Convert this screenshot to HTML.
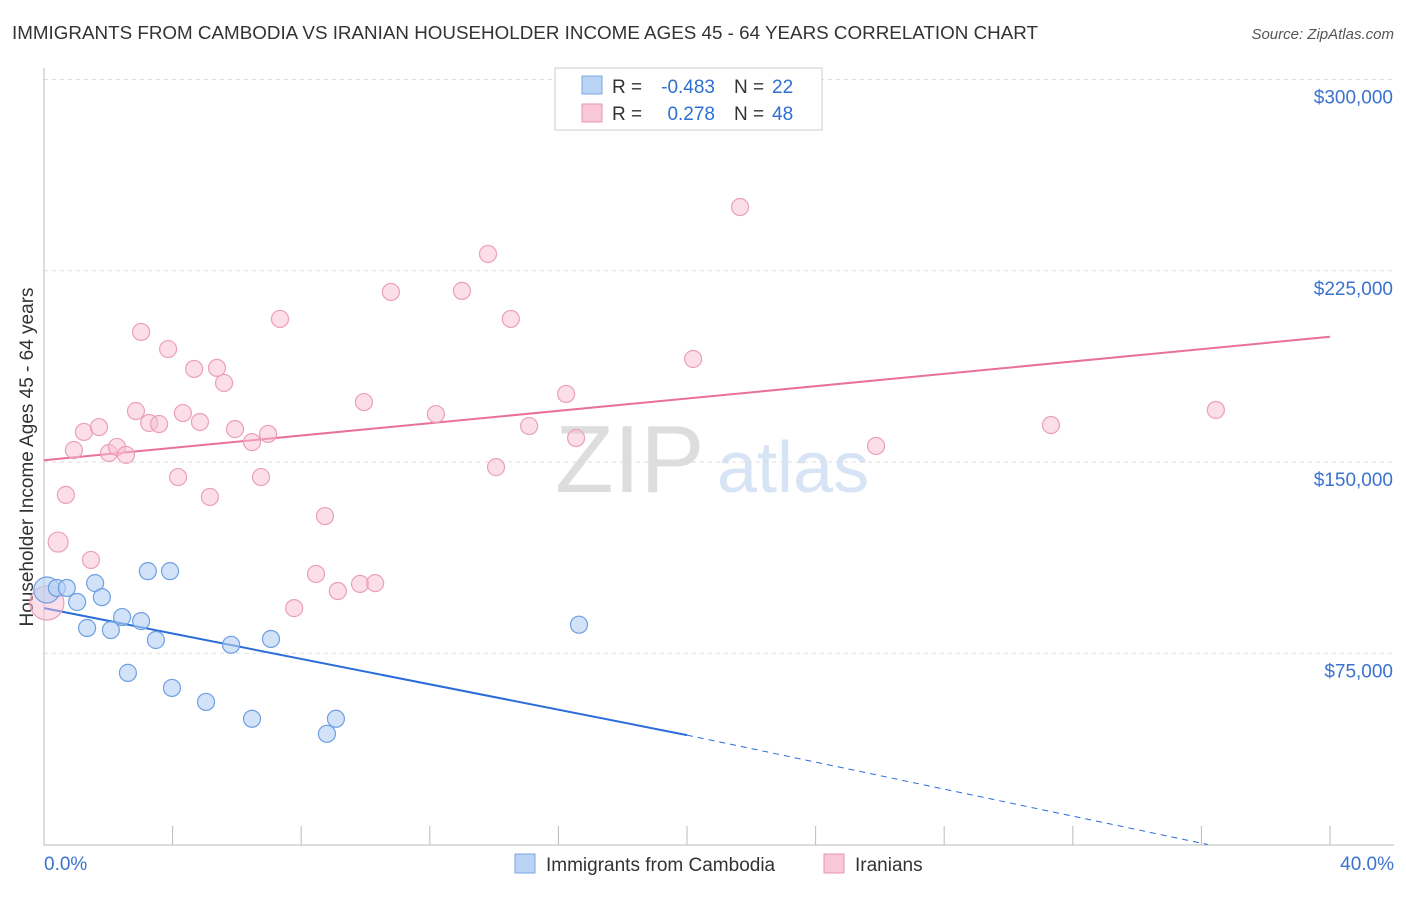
<!DOCTYPE html>
<html><head><meta charset="utf-8"><style>
body{margin:0;background:#fff;font-family:"Liberation Sans",sans-serif;}
svg text{font-family:"Liberation Sans",sans-serif;}
</style></head><body>
<svg id="chart" width="1406" height="892">
<text x="12" y="39" font-size="18.8" fill="#333" textLength="1026">IMMIGRANTS FROM CAMBODIA VS IRANIAN HOUSEHOLDER INCOME AGES 45 - 64 YEARS CORRELATION CHART</text>
<text x="1394" y="39" font-size="15" fill="#555" text-anchor="end" font-style="italic">Source: ZipAtlas.com</text>
<text transform="translate(33,457) rotate(-90)" font-size="19" fill="#333" text-anchor="middle">Householder Income Ages 45 - 64 years</text>
<text x="555" y="492" font-size="96" fill="#ddd" font-family="Liberation Serif">ZIP</text>
<text x="717" y="492" font-size="72" fill="#d6e4f5">atlas</text>
<g id="grid"></g><g id="axes"></g><g id="trends"></g><g id="points"></g>
<g>
<rect x="555" y="68" width="267" height="62" fill="#fff" stroke="#ccc"/>
<rect x="582" y="76" width="20" height="18" fill="#b9d3f5" stroke="#7aa7e0"/>
<text x="612" y="93" font-size="19" fill="#333">R =</text>
<text x="715" y="93" font-size="19" fill="#2e6fd1" text-anchor="end">-0.483</text>
<text x="734" y="93" font-size="19" fill="#333">N =</text>
<text x="772" y="93" font-size="19" fill="#2e6fd1">22</text>
<rect x="582" y="104" width="20" height="18" fill="#f9c8d8" stroke="#e893b0"/>
<text x="612" y="120" font-size="19" fill="#333">R =</text>
<text x="715" y="120" font-size="19" fill="#2e6fd1" text-anchor="end">0.278</text>
<text x="734" y="120" font-size="19" fill="#333">N =</text>
<text x="772" y="120" font-size="19" fill="#2e6fd1">48</text>
</g>
<g>
<rect x="515" y="854" width="20" height="19" fill="#b9d3f5" stroke="#7aa7e0"/>
<text x="546" y="871" font-size="19" fill="#333">Immigrants from Cambodia</text>
<rect x="824" y="854" width="20" height="19" fill="#f9c8d8" stroke="#e893b0"/>
<text x="855" y="871" font-size="19" fill="#333">Iranians</text>
</g>
</svg>
<script>
const yTicks=[75000,150000,225000,300000];
const yTickLabels=["$75,000","$150,000","$225,000","$300,000"];
const blueX=[0.09,0.40,0.71,1.03,1.34,1.59,1.80,2.08,2.43,2.61,3.02,3.23,3.48,3.92,3.98,5.04,5.82,6.47,7.06,8.80,9.08,16.64];
const blueY=[99800,100600,100600,95100,84900,102500,97000,84100,89200,67300,87600,107200,80200,107200,61400,55900,78300,49300,80600,43400,49300,86200];
const pinkX=[0.09,0.44,0.68,0.93,1.24,1.46,1.71,2.02,2.27,2.55,2.86,3.02,3.27,3.58,3.86,4.17,4.32,4.67,4.85,5.16,5.38,5.60,5.94,6.47,6.75,6.97,7.34,7.78,8.46,8.74,9.14,9.83,9.95,10.30,10.79,12.19,13.00,13.81,14.06,14.52,15.09,16.24,16.55,20.19,21.65,25.88,31.32,36.45];
const pinkY=[94700,118600,137100,154700,161800,111600,163700,153500,155900,152800,170000,201000,165300,164900,194300,144100,169200,186500,165700,136300,186900,181000,162900,157800,144100,161000,206100,92700,106100,128800,99400,102200,173500,102500,216700,168800,217100,231600,148000,206100,164100,176700,159400,190400,250000,156300,164500,170400];
const blueTrend=[[0,92700],[20,42900],[36.2,0]];
const pinkTrend=[[0,150700],[40,199100]];
const NS="http://www.w3.org/2000/svg";
const X=p=>44+p*32.15, Y=v=>844.5-v/392.16;
function mk(t,a,parent){const e=document.createElementNS(NS,t);for(const k in a)e.setAttribute(k,a[k]);document.getElementById(parent).appendChild(e);return e;}
yTicks.forEach((t,i)=>{
 const l=mk('line',{x1:44,x2:1394,y1:Y(t),y2:Y(t),stroke:'#ddd','stroke-dasharray':'4,4'},'grid');
 
 
 const tx=mk('text',{x:1393,y:Y(t)+24,'font-size':19,fill:'#3a72d0','text-anchor':'end'},'grid');
 tx.textContent=yTickLabels[i];
 
 
});
let a=mk('line',{x1:44,x2:44,y1:68,y2:845,stroke:'#bbb'},'axes');

a=mk('line',{x1:44,x2:1394,y1:845,y2:845,stroke:'#bbb'},'axes');

for(let i=0;i<=10;i++){const t=mk('line',{x1:X(i*4),x2:X(i*4),y1:826,y2:845,stroke:'#bbb'},'axes');
 }
let t0=mk('text',{x:44,y:870,'font-size':19,fill:'#3a72d0'},'axes');t0.textContent='0.0%';

let t1=mk('text',{x:1394,y:870,'font-size':19,fill:'#3a72d0','text-anchor':'end'},'axes');t1.textContent='40.0%';

let bl=mk('line',{x1:X(blueTrend[0][0]),y1:Y(blueTrend[0][1]),x2:X(blueTrend[1][0]),y2:Y(blueTrend[1][1]),stroke:'#2a6dd9','stroke-width':2},'trends');

let bd=mk('line',{x1:X(blueTrend[1][0]),y1:Y(blueTrend[1][1]),x2:X(blueTrend[2][0]),y2:Y(blueTrend[2][1]),stroke:'#2a6dd9','stroke-width':1,'stroke-dasharray':'6,5'},'trends');

let pl=mk('line',{x1:X(pinkTrend[0][0]),y1:Y(pinkTrend[0][1]),x2:X(pinkTrend[1][0]),y2:Y(pinkTrend[1][1]),stroke:'#e8709a','stroke-width':2},'trends');

pinkX.forEach((x,i)=>{const c=mk('circle',{cx:X(x),cy:Y(pinkY[i]),r:i==0?17:(i==1?10:8.5),fill:'rgba(248,190,210,0.5)',stroke:'#eaa0ba','stroke-width':1.2},'points');
 });
blueX.forEach((x,i)=>{const c=mk('circle',{cx:X(x),cy:Y(blueY[i]),r:i==0?13:8.5,fill:'rgba(180,208,245,0.6)',stroke:'#6e9fe0','stroke-width':1.2},'points');
 });
</script>
</body></html>
